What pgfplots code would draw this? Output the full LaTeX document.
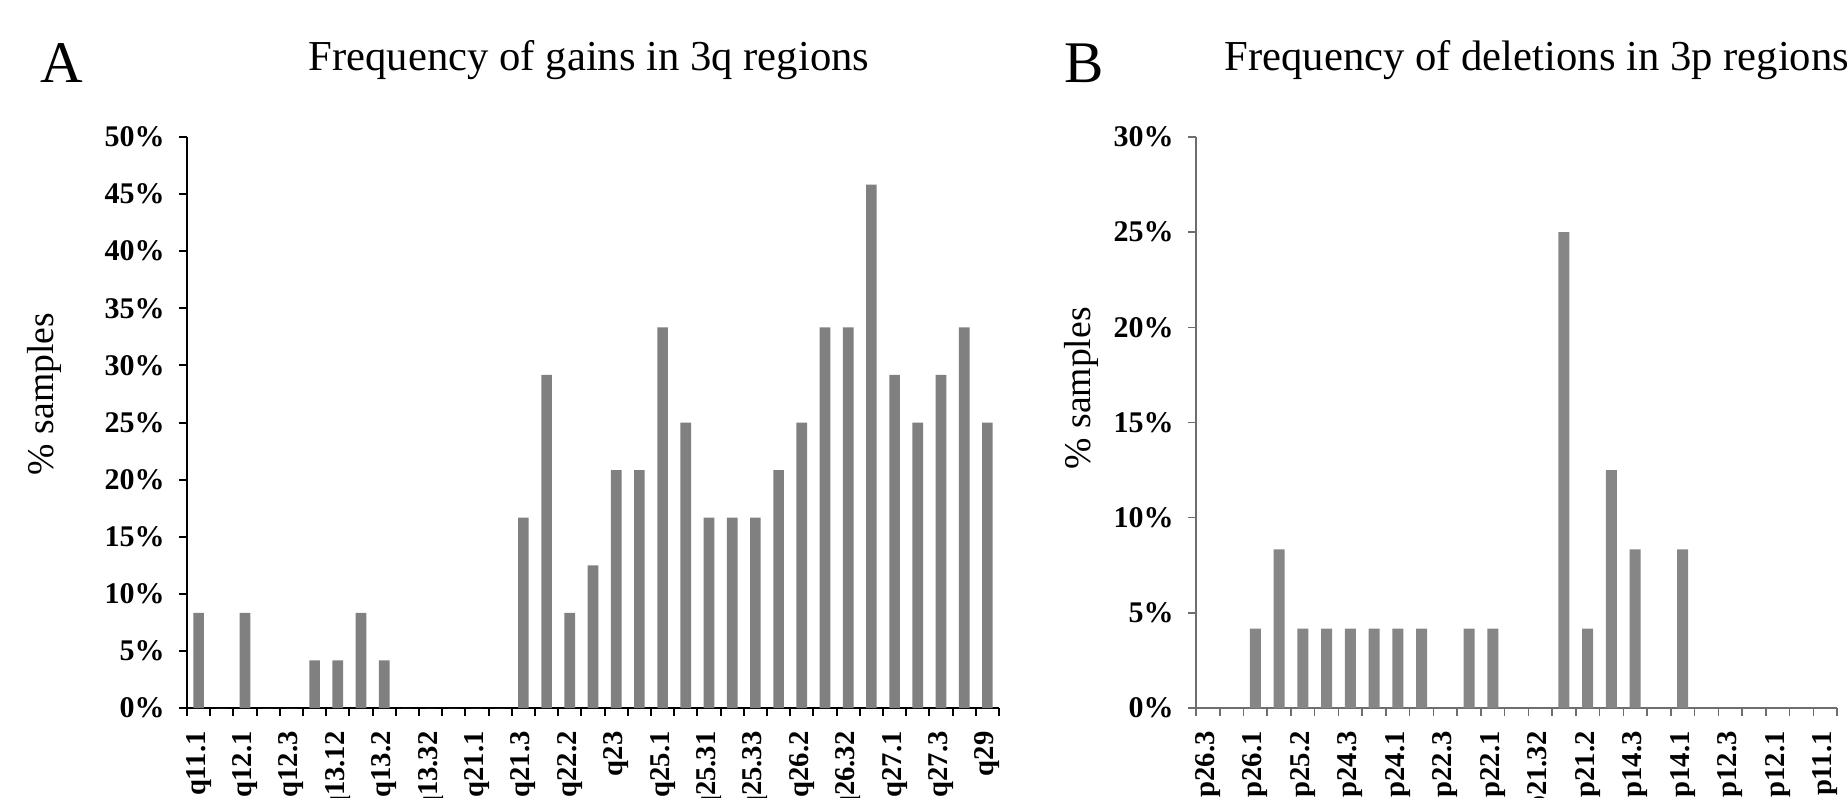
\documentclass[border=0pt]{standalone}
\usepackage{fontspec}
\setmainfont{Liberation Serif}
\usepackage{pgfplots}
\pgfplotsset{compat=1.18}
\definecolor{barA}{HTML}{808080}
\definecolor{barB}{HTML}{868686}
\definecolor{axB}{HTML}{6E6E6E}
\begin{document}
\begin{tikzpicture}
\useasboundingbox (0,0) rectangle (554.1pt,239.1pt);
\pgfplotsset{
  common/.style={
    scale only axis,
    anchor=south west,
    axis lines*=left,
    tick align=outside,
    major tick length=2.4pt,
    ymin=0,
    ybar,
    enlarge x limits=false,
    xticklabels={},
    yticklabel style={font=\bfseries\fontsize{9}{10}\selectfont, xshift=-0.8pt},
    extra x tick style={major tick length=0pt},
    extra x tick labels={},
    xticklabel style={yshift=-3.5pt, rotate=90, anchor=east, font=\bfseries\fontsize{8.6}{10}\selectfont},
    ylabel style={font=\fontsize{11.3}{13}\selectfont, anchor=center},
  }
}
% Panel A
\begin{axis}[common,
  at={(56.1pt,26.7pt)}, width=243.6pt, height=171.3pt,
  xmin=0, xmax=35, ymax=50,
  xtick={0,1,...,35},
  ytick={0,5,...,50},
  yticklabels={0\%,5\%,10\%,15\%,20\%,25\%,30\%,35\%,40\%,45\%,50\%},
  extra x ticks={0.5,2.5,...,34.5},
  extra x tick labels={q11.1,q12.1,q12.3,q13.12,q13.2,q13.32,q21.1,q21.3,q22.2,q23,q25.1,q25.31,q25.33,q26.2,q26.32,q27.1,q27.3,q29},
  axis line style={black, line width=0.6pt},
  every tick/.style={black, line width=0.6pt},
  bar width=3.2pt,
  ylabel={\% samples},
  ylabel style={at={(axis description cs:-0.175,0.55)}},
]
\addplot[fill=barA, draw=none] coordinates {
(0.5,8.33) (1.5,0) (2.5,8.33) (3.5,0) (4.5,0) (5.5,4.17) (6.5,4.17) (7.5,8.33)
(8.5,4.17) (9.5,0) (10.5,0) (11.5,0) (12.5,0) (13.5,0) (14.5,16.67) (15.5,29.17)
(16.5,8.33) (17.5,12.5) (18.5,20.83) (19.5,20.83) (20.5,33.33) (21.5,25) (22.5,16.67)
(23.5,16.67) (24.5,16.67) (25.5,20.83) (26.5,25) (27.5,33.33) (28.5,33.33) (29.5,45.83)
(30.5,29.17) (31.5,25) (32.5,29.17) (33.5,33.33) (34.5,25)
};
\end{axis}
% Panel B
\begin{axis}[common,
  at={(358.8pt,26.7pt)}, width=192.3pt, height=171.3pt,
  xmin=0, xmax=27, ymax=30,
  xtick={0,1,...,27},
  ytick={0,5,...,30},
  yticklabels={0\%,5\%,10\%,15\%,20\%,25\%,30\%},
  extra x ticks={0.5,2.5,...,26.5},
  extra x tick labels={p26.3,p26.1,p25.2,p24.3,p24.1,p22.3,p22.1,p21.32,p21.2,p14.3,p14.1,p12.3,p12.1,p11.1},
  axis line style={axB, line width=0.45pt},
  every tick/.style={axB, line width=0.45pt},
  bar width=3.3pt,
  ylabel={\% samples},
  ylabel style={at={(axis description cs:-0.179,0.56)}},
]
\addplot[fill=barB, draw=none] coordinates {
(0.5,0) (1.5,0) (2.5,4.17) (3.5,8.33) (4.5,4.17) (5.5,4.17) (6.5,4.17) (7.5,4.17)
(8.5,4.17) (9.5,4.17) (10.5,0) (11.5,4.17) (12.5,4.17) (13.5,0) (14.5,0) (15.5,25)
(16.5,4.17) (17.5,12.5) (18.5,8.33) (19.5,0) (20.5,8.33) (21.5,0) (22.5,0) (23.5,0)
(24.5,0) (25.5,0) (26.5,0)
};
\end{axis}
\node[anchor=base, font=\fontsize{17.7}{20}\selectfont, inner sep=0pt] at (18.5pt,214.5pt) {A};
\node[anchor=base, font=\fontsize{17.7}{20}\selectfont, inner sep=0pt] at (325.2pt,214.5pt) {B};
\node[anchor=base, font=\fontsize{12.8}{15}\selectfont, inner sep=0pt] at (176.7pt,218.1pt) {Frequency of gains in 3q regions};
\node[anchor=base west, font=\fontsize{12.8}{15}\selectfont, inner sep=0pt] at (367.2pt,218.1pt) {Frequency of deletions in 3p regions};
\end{tikzpicture}
\end{document}
